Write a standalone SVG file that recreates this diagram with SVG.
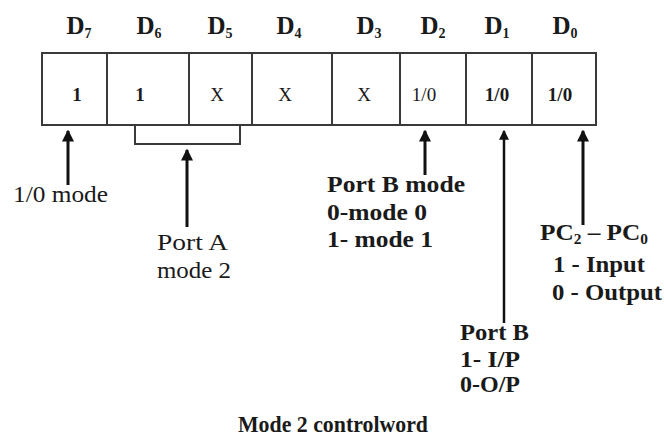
<svg xmlns="http://www.w3.org/2000/svg" width="664" height="441" viewBox="0 0 664 441">
<style>
text{fill:#1a1a1a;font-family:"Liberation Serif","Times New Roman",serif}
.h{font-size:25px;font-weight:bold;text-anchor:middle}
.s{font-size:14px}
.v{font-size:19px;font-weight:bold;text-anchor:middle}
.n{font-weight:normal}
.l{font-size:23px}
.b{font-weight:bold}
.t{font-size:24px;font-weight:bold}
.box{fill:none;stroke:#3a3a3a;stroke-width:2}
.ar{stroke:#111;stroke-width:3;fill:none}
</style>
<defs>
<marker id="ah" markerWidth="4" markerHeight="4" refX="3.5" refY="2" orient="auto" markerUnits="strokeWidth">
<path d="M0,0 L4,2 L0,4 z" fill="#111"/>
</marker>
</defs>
<rect width="664" height="441" fill="#fff"/>
<g id="register">
<rect class="box" x="42" y="53" width="554" height="72"/>
<path class="box" d="M107,53V125M189,53V125M252,53V125M332,53V125M400,53V125M466,53V125M532,53V125"/>
<text class="h" x="79" y="34">D<tspan class="s" dy="4">7</tspan></text>
<text class="h" x="149" y="34">D<tspan class="s" dy="4">6</tspan></text>
<text class="h" x="220" y="34">D<tspan class="s" dy="4">5</tspan></text>
<text class="h" x="289" y="34">D<tspan class="s" dy="4">4</tspan></text>
<text class="h" x="369" y="34">D<tspan class="s" dy="4">3</tspan></text>
<text class="h" x="433" y="34">D<tspan class="s" dy="4">2</tspan></text>
<text class="h" x="497" y="34">D<tspan class="s" dy="4">1</tspan></text>
<text class="h" x="565" y="34">D<tspan class="s" dy="4">0</tspan></text>
<text class="v" x="77" y="101">1</text>
<text class="v" x="140" y="101">1</text>
<text class="v n" x="217" y="101">X</text>
<text class="v n" x="285" y="101">X</text>
<text class="v n" x="364" y="101">X</text>
<text class="v n" x="424" y="101">1/0</text>
<text class="v" x="497" y="101">1/0</text>
<text class="v" x="560" y="101">1/0</text>
</g>
<g id="connectors">
<path class="box" d="M135,125V144H240V125"/>
<line class="ar" x1="68" y1="185" x2="68" y2="131" marker-end="url(#ah)"/>
<line class="ar" x1="187" y1="227" x2="187" y2="150" marker-end="url(#ah)"/>
<line class="ar" x1="425" y1="175" x2="425" y2="131" marker-end="url(#ah)"/>
<line class="ar" x1="504" y1="323" x2="504" y2="131" marker-end="url(#ah)" style="stroke-width:2.5"/>
<line class="ar" x1="583" y1="225" x2="583" y2="131" marker-end="url(#ah)"/>
</g>
<g id="mode-io">
<text class="l" x="13" y="202" textLength="95" lengthAdjust="spacingAndGlyphs">1/0 mode</text>
</g>
<g id="port-a">
<text class="l" x="157" y="250" textLength="71" lengthAdjust="spacingAndGlyphs">Port A</text>
<text class="l" x="157" y="278" textLength="74" lengthAdjust="spacingAndGlyphs">mode 2</text>
</g>
<g id="port-b-mode">
<text class="l b" x="327" y="192" textLength="138" lengthAdjust="spacingAndGlyphs">Port B mode</text>
<text class="l b" x="327" y="220" textLength="100" lengthAdjust="spacingAndGlyphs">0-mode 0</text>
<text class="l b" x="327" y="247" textLength="106" lengthAdjust="spacingAndGlyphs">1- mode 1</text>
</g>
<g id="port-b">
<text class="l b" x="460" y="340" textLength="69" lengthAdjust="spacingAndGlyphs">Port B</text>
<text class="l b" x="460" y="367" textLength="60" lengthAdjust="spacingAndGlyphs">1- I/P</text>
<text class="l b" x="460" y="392" textLength="60" lengthAdjust="spacingAndGlyphs">0-O/P</text>
</g>
<g id="port-c">
<text class="l b" x="540" y="240" textLength="108" lengthAdjust="spacingAndGlyphs">PC<tspan class="s" dy="4">2</tspan><tspan dy="-4"> – PC</tspan><tspan class="s" dy="4">0</tspan></text>
<text class="l b" x="553" y="272" textLength="92" lengthAdjust="spacingAndGlyphs">1 - Input</text>
<text class="l b" x="552" y="300" textLength="110" lengthAdjust="spacingAndGlyphs">0 - Output</text>
</g>
<g id="title">
<text class="t" x="238" y="432" textLength="190" lengthAdjust="spacingAndGlyphs">Mode 2 controlword</text>
</g>
</svg>
